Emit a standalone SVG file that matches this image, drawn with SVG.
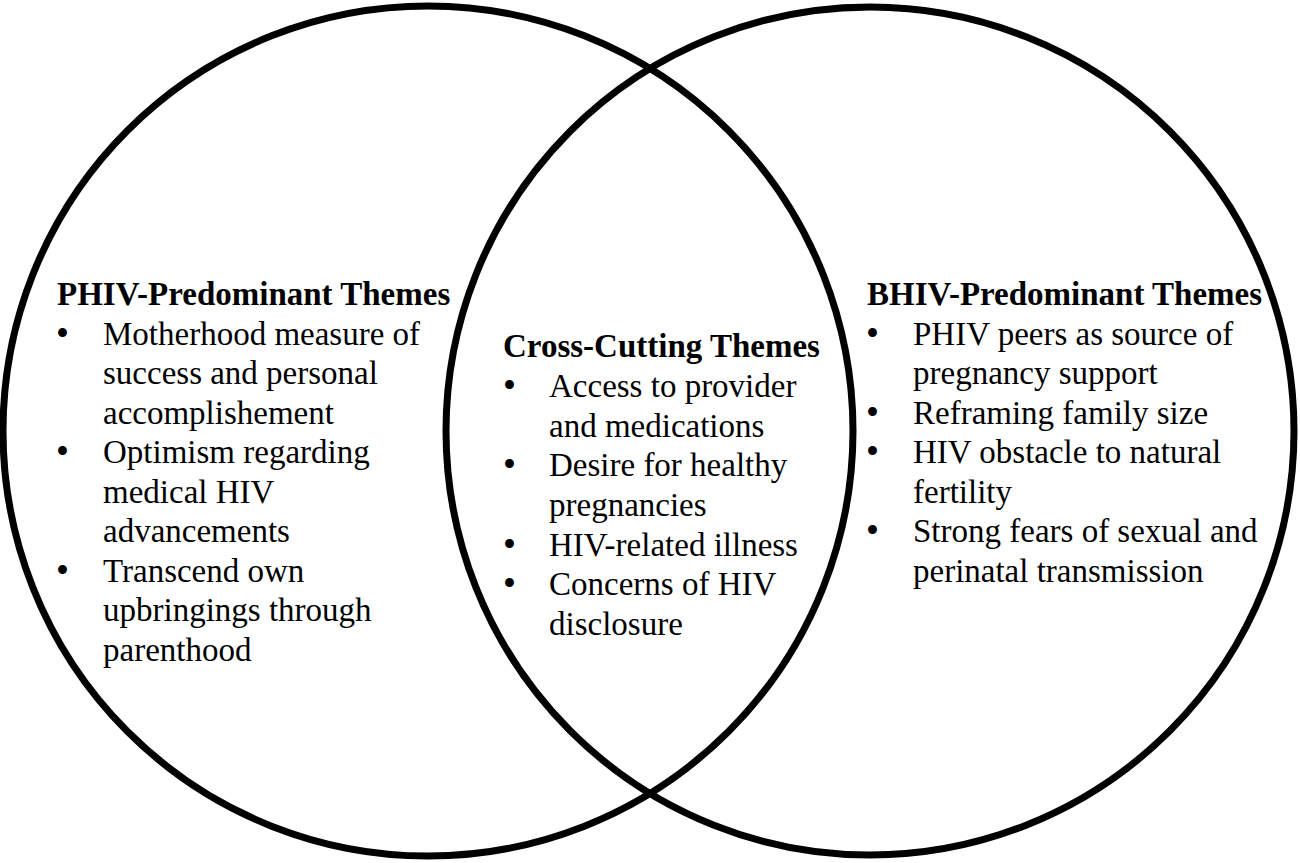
<svg xmlns="http://www.w3.org/2000/svg" width="1300" height="863" viewBox="0 0 1300 863">
<style>
.c{fill:none;stroke:#000;stroke-width:7}
text{font-family:"Liberation Serif","Times New Roman",serif;font-size:33px;fill:#000}
.h{font-weight:bold}
.b{font-size:37px}
</style>
<rect width="1300" height="863" fill="#fff"/>
<g id="left-circle"><circle class="c" cx="428" cy="431" r="425"/></g>
<g id="right-circle"><circle class="c" cx="870" cy="431" r="424"/></g>
<g id="phiv">
<text class="h" x="57" y="305">PHIV-Predominant Themes</text>
<text class="b" x="56" y="346">•</text><text x="103" y="345">Motherhood measure of</text>
<text x="103" y="384">success and personal</text>
<text x="103" y="424">accomplishement</text>
<text class="b" x="56" y="464">•</text><text x="103" y="463">Optimism regarding</text>
<text x="103" y="503">medical HIV</text>
<text x="103" y="542">advancements</text>
<text class="b" x="56" y="583">•</text><text x="103" y="582">Transcend own</text>
<text x="103" y="621">upbringings through</text>
<text x="103" y="661">parenthood</text>
</g>
<g id="cross">
<text class="h" x="503" y="357">Cross-Cutting Themes</text>
<text class="b" x="503" y="398">•</text><text x="549" y="397">Access to provider</text>
<text x="549" y="437">and medications</text>
<text class="b" x="503" y="477">•</text><text x="549" y="476">Desire for healthy</text>
<text x="549" y="516">pregnancies</text>
<text class="b" x="503" y="557">•</text><text x="549" y="556">HIV-related illness</text>
<text class="b" x="503" y="596">•</text><text x="549" y="595">Concerns of HIV</text>
<text x="549" y="635">disclosure</text>
</g>
<g id="bhiv">
<text class="h" x="867" y="305">BHIV-Predominant Themes</text>
<text class="b" x="866" y="346">•</text><text x="913" y="345">PHIV peers as source of</text>
<text x="913" y="384">pregnancy support</text>
<text class="b" x="866" y="425">•</text><text x="913" y="424">Reframing family size</text>
<text class="b" x="866" y="464">•</text><text x="913" y="463">HIV obstacle to natural</text>
<text x="913" y="503">fertility</text>
<text class="b" x="866" y="543">•</text><text x="913" y="542">Strong fears of sexual and</text>
<text x="913" y="582">perinatal transmission</text>
</g>
<g id="connectors"></g>
</svg>
